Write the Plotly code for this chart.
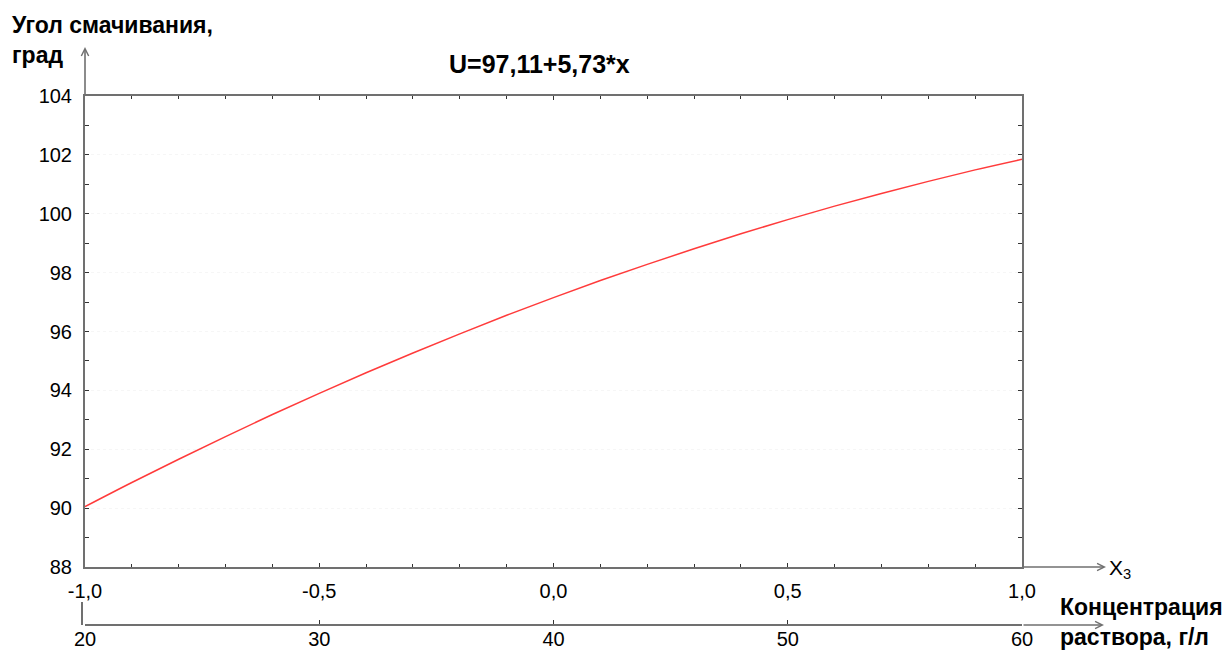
import plotly.graph_objects as go

# Data
x_coded = [-1.0, -0.9, -0.8, -0.7, -0.6, -0.5, -0.4, -0.3, -0.2, -0.1, 0.0,
           0.1, 0.2, 0.3, 0.4, 0.5, 0.6, 0.7, 0.8, 0.9, 1.0]
angle = [90.05, 90.87, 91.66, 92.43, 93.18, 93.90, 94.60, 95.27, 95.92, 96.55, 97.15,
         97.73, 98.28, 98.81, 99.32, 99.80, 100.26, 100.69, 101.10, 101.49, 101.85]
x_ticks = [-1.0, -0.5, 0.0, 0.5, 1.0]
x_tick_labels = ["-1,0", "-0,5", "0,0", "0,5", "1,0"]
conc_ticks = [20, 30, 40, 50, 60]
y_ticks = [88, 90, 92, 94, 96, 98, 100, 102, 104]

title_text = "U=97,11+5,73*x"
ylabel_text = "Угол смачивания,<br>град"
x3_text = "X<sub>3</sub>"
conc_text = "Концентрация<br>раствора, г/л"

FONT = "Liberation Sans, Arial, sans-serif"
AX = "#707070"
TK = "#333333"

fig = go.Figure()
fig.add_trace(go.Scatter(x=x_coded, y=angle, mode="lines",
                         line=dict(color="#ff3b3b", width=1.5, shape="spline"),
                         showlegend=False, hoverinfo="skip"))
# invisible trace to activate secondary axis
fig.add_trace(go.Scatter(x=[conc_ticks[0], conc_ticks[-1]], y=[None, None], xaxis="x2",
                         mode="lines", showlegend=False, hoverinfo="skip"))

PH = 529  # paper height in px (top 96 -> bottom 625)
PW = 937
DOM_BOTTOM = (625 - 567) / PH

def px(xpix):
    return (xpix - 85) / PW

def py(ypix):
    return (625 - ypix) / PH

fig.update_layout(
    width=1228, height=653,
    margin=dict(l=85, r=206, t=96, b=28, autoexpand=False),
    paper_bgcolor="white", plot_bgcolor="white",
    font=dict(family=FONT, size=20, color="black"),
    xaxis=dict(range=[-1, 1], tickvals=x_ticks, ticktext=x_tick_labels,
               showline=True, linecolor=AX, linewidth=2, mirror="allticks",
               ticks="inside", ticklen=4, tickcolor=TK, tickwidth=1,
               minor=dict(dtick=0.1, ticks="inside", ticklen=3, tickcolor=TK),
               showgrid=False, zeroline=False, ticklabelstandoff=5,
               tickfont=dict(size=20), anchor="y", automargin=False),
    yaxis=dict(range=[88, 104], tickvals=y_ticks, domain=[DOM_BOTTOM, 1],
               showline=True, linecolor=AX, linewidth=2, mirror="allticks",
               ticks="inside", ticklen=4, tickcolor=TK, tickwidth=1,
               minor=dict(dtick=1, ticks="inside", ticklen=3, tickcolor=TK),
               showgrid=True, gridcolor="#f6f6f6", griddash="dot", gridwidth=1,
               zeroline=False, ticklabelstandoff=7, tickfont=dict(size=20),
               automargin=False),
    xaxis2=dict(range=[20, 60], tickvals=conc_ticks, overlaying="x", anchor="free",
                position=0, side="bottom",
                showline=True, linecolor=AX, linewidth=2,
                ticks="inside", ticklen=4, tickcolor=TK,
                showgrid=False, zeroline=False, ticklabelstandoff=-4,
                tickfont=dict(size=20), automargin=False),
)

def arrow(xp, yp, ax, ay):
    fig.add_annotation(x=xp, y=yp, xref="paper", yref="paper", ax=ax, ay=ay,
                       text="", showarrow=True,
                       arrowhead=5, arrowsize=0.9, arrowwidth=1.6, arrowcolor=AX)

# axis extensions with arrows
arrow(px(1106), py(567), -84, 0)
arrow(px(85), py(47), 0, 49)
arrow(px(1104), py(625), -82, 0)

# small stub at the left end of the concentration axis
fig.add_shape(type="line", xref="paper", yref="paper", x0=px(82), x1=px(82),
              y0=0, y1=23 / PH, line=dict(color=AX, width=2))

fig.add_annotation(text=title_text, xref="paper", yref="paper",
                   x=px(539), y=py(64), showarrow=False,
                   font=dict(size=25, family=FONT, color="black", weight="bold"),
                   xanchor="center", yanchor="middle")
fig.add_annotation(text=ylabel_text, xref="paper", yref="paper",
                   x=px(10), y=py(40), showarrow=False,
                   align="left", xanchor="left", yanchor="middle",
                   font=dict(size=23, family=FONT, color="black", weight="bold"))
fig.add_annotation(text=x3_text, xref="paper", yref="paper",
                   x=px(1107), y=py(569), showarrow=False,
                   xanchor="left", yanchor="middle",
                   font=dict(size=21, family=FONT, color="black"))
fig.add_annotation(text=conc_text, xref="paper", yref="paper",
                   x=px(1058), y=py(622), showarrow=False,
                   align="left", xanchor="left", yanchor="middle",
                   font=dict(size=23, family=FONT, color="black", weight="bold"))

fig.write_html("out.html", config={"displayModeBar": False},
               post_script="document.body.style.margin='0';")
